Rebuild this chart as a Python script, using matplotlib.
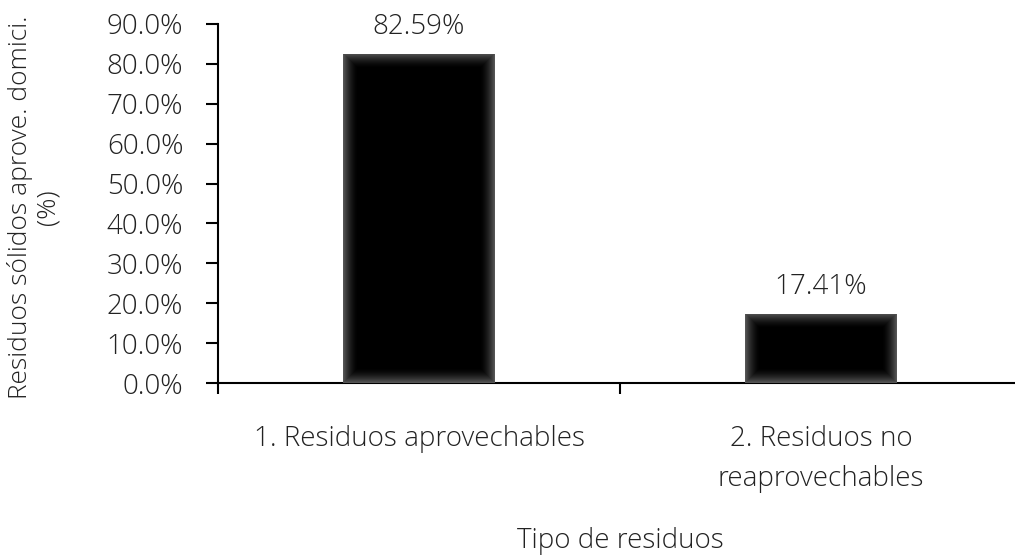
import numpy as np
import matplotlib
matplotlib.use("Agg")
import matplotlib.pyplot as plt

categories = ["1. Residuos aprovechables", "2. Residuos no\nreaprovechables"]
values = [82.59, 17.41]
y_ticks = [0, 10, 20, 30, 40, 50, 60, 70, 80, 90]
y_tick_labels = [f"{t:.1f}%" for t in y_ticks]
value_labels = [f"{v:.2f}%" for v in values]

plt.rcParams["font.family"] = ["Open Sans", "DejaVu Sans"]
plt.rcParams["font.weight"] = "light"
plt.rcParams["axes.labelweight"] = "light"
FS = 20
TXT = "#222222"

W, H = 1015, 558
fig = plt.figure(figsize=(W / 100, H / 100), dpi=100)
ax = fig.add_axes([218 / W, (H - 383) / H, (1022 - 218) / W, (383 - 24) / H])

x = np.arange(len(categories))
bar_w = 0.378
bars = ax.bar(x, values, width=bar_w, color="black", zorder=2)

ax.set_xlim(-0.5, 1.5)
ax.set_ylim(0, 90)

# soft inner glow along bar edges
fig.canvas.draw()
for b in bars:
    x0, y0 = b.get_x(), b.get_y()
    x1, y1 = x0 + b.get_width(), y0 + b.get_height()
    p0 = ax.transData.transform((x0, y0))
    p1 = ax.transData.transform((x1, y1))
    wpx = int(round(abs(p1[0] - p0[0])))
    hpx = int(round(abs(p1[1] - p0[1])))
    xx = np.arange(wpx) + 0.5
    yy = np.arange(hpx) + 0.5
    dx = np.minimum(xx, wpx - xx)[None, :]
    dy = np.minimum(yy, hpx - yy)[:, None]
    d = np.minimum(dx, dy)
    glow = 16.0
    a = np.clip(1 - d / glow, 0, 1) ** 1.8 * 0.36
    img = np.zeros((hpx, wpx, 4))
    img[..., :3] = 1.0
    img[..., 3] = a
    ax.imshow(img, extent=(x0, x1, y0, y1), origin="upper", aspect="auto",
              interpolation="bilinear", zorder=3)
ax.set_xlim(-0.5, 1.5)
ax.set_ylim(0, 90)

for xi, v, lab in zip(x, values, value_labels):
    ax.annotate(lab, (xi, v), xytext=(0, 9), textcoords="offset points",
                ha="center", va="bottom", fontsize=FS, color=TXT)

for s in ["top", "right"]:
    ax.spines[s].set_visible(False)
for s in ["left", "bottom"]:
    ax.spines[s].set_linewidth(1.5)
    ax.spines[s].set_color("black")

ax.set_yticks(y_ticks)
ax.set_yticklabels(y_tick_labels, fontsize=FS, color=TXT)
ax.tick_params(axis="y", direction="out", length=9, width=1.5, pad=16)

ax.set_xticks([-0.5, 0.5, 1.5])
ax.set_xticklabels(["", "", ""])
ax.tick_params(axis="x", which="major", direction="out", length=8, width=1.5)
ax.set_xticks(x, minor=True)
ax.set_xticklabels(categories, minor=True, fontsize=FS, color=TXT,
                   linespacing=1.6, va="top")
ax.tick_params(axis="x", which="minor", length=0, pad=30)

ax.set_xlabel("Tipo de residuos", fontsize=FS, color=TXT, fontweight="light")
ax.xaxis.set_label_coords((620 - 218) / (1022 - 218), -(541 - 383) / (383 - 24), transform=ax.transAxes)
ax.set_ylabel("Residuos sólidos aprove. domici.\n(%)", fontsize=19, color=TXT,
              linespacing=1.15, ha="center", fontweight="light")
ax.yaxis.set_label_coords(-(218 - 34) / (1022 - 218), (383 - 207) / (383 - 24), transform=ax.transAxes)
ax.xaxis.label.set_va("center")
ax.yaxis.label.set_va("center")

fig.savefig("out.png", dpi=100)
